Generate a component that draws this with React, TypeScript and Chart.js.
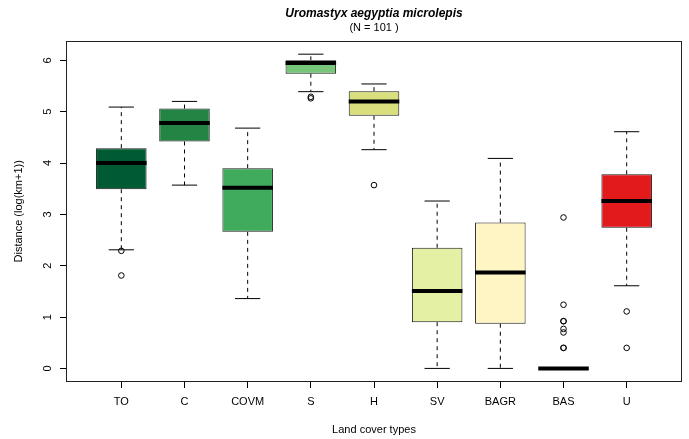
import React, { useEffect, useRef } from "react";
import { Chart, registerables } from "chart.js";

Chart.register(...registerables);

// ---- data ----
const categories = ["TO", "C", "COVM", "S", "H", "SV", "BAGR", "BAS", "U"];
const positions = [1, 2, 3, 4, 5, 6, 7, 8, 9];
const lowerWhisker = [2.31, 3.57, 1.36, 5.39, 4.26, 0, 0, 0, 1.61];
const q1 = [3.49, 4.42, 2.66, 5.74, 4.92, 0.9, 0.87, 0, 2.74];
const median = [4.0, 4.78, 3.52, 5.95, 5.2, 1.51, 1.87, 0, 3.26];
const q3 = [4.29, 5.06, 3.9, 6.0, 5.4, 2.35, 2.84, 0, 3.78];
const upperWhisker = [5.09, 5.2, 4.68, 6.12, 5.54, 3.26, 4.09, 0, 4.61];
const boxColors = ["#005a32", "#238443", "#41ab5d", "#78c679", "#d9df7c", "#e4f0a3", "#fff5c4", "#ffffcc", "#e31a1c"];
const outlierGroup = ["TO", "TO", "S", "S", "H", "BAS", "BAS", "BAS", "BAS", "BAS", "BAS", "BAS", "BAS", "U", "U"];
const outlierValues = [2.29, 1.81, 5.29, 5.26, 3.57, 2.94, 1.24, 0.92, 0.92, 0.77, 0.7, 0.4, 0.4, 1.11, 0.4];
const yTicks = [0, 1, 2, 3, 4, 5, 6];

const FONT = "'Liberation Sans', Arial, Helvetica, sans-serif";

const boxplotPlugin = {
  id: "boxplotParts",
  beforeDatasetsDraw(chart: any) {
    const { ctx } = chart;
    const xs = chart.scales.x;
    const ys = chart.scales.y;
    const half = 0.4;
    const capHalf = 0.2;
    ctx.save();
    ctx.strokeStyle = "#000";
    ctx.lineWidth = 1;
    positions.forEach((p, i) => {
      const x = xs.getPixelForValue(p);
      // dashed whiskers
      ctx.setLineDash([4, 4]);
      ctx.beginPath();
      ctx.moveTo(x, ys.getPixelForValue(q3[i]));
      ctx.lineTo(x, ys.getPixelForValue(upperWhisker[i]));
      ctx.moveTo(x, ys.getPixelForValue(q1[i]));
      ctx.lineTo(x, ys.getPixelForValue(lowerWhisker[i]));
      ctx.stroke();
      // caps
      ctx.setLineDash([]);
      const cl = xs.getPixelForValue(p - capHalf);
      const cr = xs.getPixelForValue(p + capHalf);
      ctx.beginPath();
      ctx.moveTo(cl, ys.getPixelForValue(upperWhisker[i]));
      ctx.lineTo(cr, ys.getPixelForValue(upperWhisker[i]));
      ctx.moveTo(cl, ys.getPixelForValue(lowerWhisker[i]));
      ctx.lineTo(cr, ys.getPixelForValue(lowerWhisker[i]));
      ctx.stroke();
    });
    ctx.restore();
  },
  afterDatasetDraw(chart: any, args: any) {
    if (args.index !== 0) return;
    const { ctx } = chart;
    const xs = chart.scales.x;
    const ys = chart.scales.y;
    ctx.save();
    ctx.strokeStyle = "#000";
    ctx.lineWidth = 4;
    ctx.lineCap = "butt";
    positions.forEach((p, i) => {
      const y = ys.getPixelForValue(median[i]);
      ctx.beginPath();
      ctx.moveTo(xs.getPixelForValue(p - 0.4), y);
      ctx.lineTo(xs.getPixelForValue(p + 0.4), y);
      ctx.stroke();
    });
    ctx.restore();
  },
  afterDraw(chart: any) {
    const { ctx, chartArea } = chart;
    ctx.save();
    ctx.strokeStyle = "#222";
    ctx.lineWidth = 1;
    ctx.strokeRect(
      Math.round(chartArea.left) - 0.5,
      Math.round(chartArea.top) - 0.5,
      Math.round(chartArea.right - chartArea.left) + 1,
      Math.round(chartArea.bottom - chartArea.top) + 1
    );
    ctx.restore();
  },
};

export default function App() {
  const canvasRef = useRef<HTMLCanvasElement | null>(null);

  useEffect(() => {
    if (!canvasRef.current) return;
    const boxData = positions.map((p, i) => ({ x: p, y: [q1[i], q3[i]] }));
    const outlierData = outlierValues.map((v, i) => ({
      x: positions[categories.indexOf(outlierGroup[i])],
      y: v,
    }));
    const chart = new Chart(canvasRef.current, {
      type: "bar",
      data: {
        datasets: [
          {
            type: "bar",
            data: boxData as any,
            backgroundColor: boxColors,
            borderColor: "#1a1a1a",
            borderWidth: 1,
            borderSkipped: false,
            categoryPercentage: 1,
            barPercentage: 0.8,
          } as any,
          {
            type: "scatter",
            data: outlierData,
            pointRadius: 2.8,
            pointBorderWidth: 1,
            pointBorderColor: "#000",
            pointBackgroundColor: "rgba(0,0,0,0)",
            showLine: false,
          } as any,
        ],
      },
      options: {
        animation: false,
        responsive: false,
        maintainAspectRatio: false,
        layout: { padding: { left: 0, right: 8, top: 0, bottom: 0 } },
        plugins: {
          legend: { display: false },
          tooltip: { enabled: false },
          title: {
            display: true,
            fullSize: false,
            text: "Uromastyx aegyptia microlepis",
            color: "#000",
            font: { family: FONT, size: 12, weight: "bold", style: "italic", lineHeight: 1.2 },
            padding: { top: 6, bottom: 0 },
          },
          subtitle: {
            display: true,
            fullSize: false,
            text: "(N = 101 )",
            color: "#000",
            font: { family: FONT, size: 11, lineHeight: 1.2 },
            padding: { top: 1, bottom: 7 },
          },
        },
        scales: {
          x: {
            type: "linear",
            min: 0.14,
            max: 9.86,
            offset: false,
            afterBuildTicks: (s: any) => {
              s.ticks = positions.map((v) => ({ value: v }));
            },
            afterFit: (s: any) => {
              s.height = 58;
            },
            ticks: {
              autoSkip: false,
              maxRotation: 0,
              minRotation: 0,
              padding: 7,
              color: "#000",
              font: { family: FONT, size: 11, lineHeight: 1.2 },
              callback: (v: any) => categories[Math.round(Number(v)) - 1] ?? "",
            },
            grid: {
              display: true,
              drawOnChartArea: false,
              drawTicks: true,
              tickLength: 7,
              color: "#000",
              offset: false,
            },
            border: { display: false },
            title: {
              display: true,
              text: "Land cover types",
              color: "#000",
              font: { family: FONT, size: 11, lineHeight: 1.2 },
              padding: { top: 0, bottom: 2.4 },
            },
          },
          y: {
            type: "linear",
            min: -0.245,
            max: 6.365,
            afterBuildTicks: (s: any) => {
              s.ticks = yTicks.map((v) => ({ value: v }));
            },
            afterFit: (s: any) => {
              s.width = 67;
            },
            ticks: {
              minRotation: 90,
              maxRotation: 90,
              crossAlign: "center",
              padding: 9,
              color: "#000",
              font: { family: FONT, size: 11, lineHeight: 1.2 },
              callback: (v: any) => String(v),
            },
            grid: {
              display: true,
              drawOnChartArea: false,
              drawTicks: true,
              tickLength: 7,
              color: "#000",
            },
            border: { display: false },
            title: {
              display: true,
              text: "Distance (log(km+1))",
              color: "#000",
              font: { family: FONT, size: 11, lineHeight: 1.2 },
              padding: { top: 12.4, bottom: 0 },
            },
          },
        },
      } as any,
      plugins: [boxplotPlugin],
    });
    return () => chart.destroy();
  }, []);

  return (
    <div style={{ position: "fixed", left: 0, top: 0, width: 689, height: 439, background: "#fff" }}>
      <canvas ref={canvasRef} width={689} height={439} style={{ display: "block" }} />
    </div>
  );
}
